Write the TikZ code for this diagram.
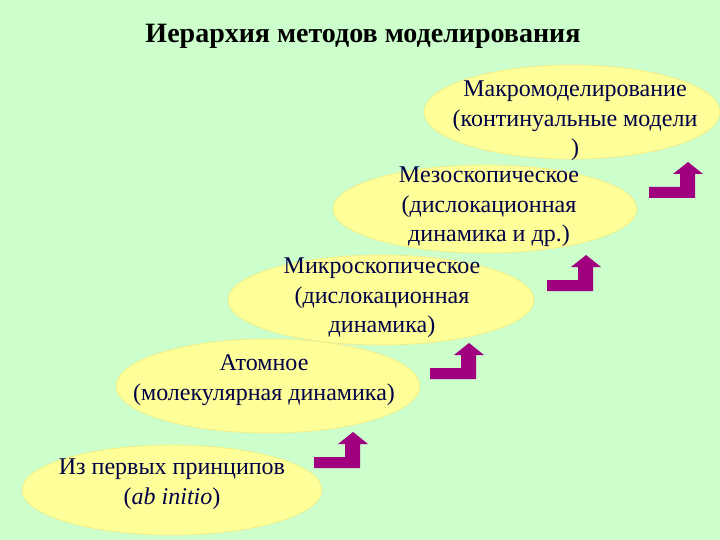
\documentclass[tikz,border=0pt]{standalone}
\usepackage{fontspec}
\setmainfont{Liberation Serif}
\usetikzlibrary{shapes.geometric}
\definecolor{slidegreen}{RGB}{204,255,204}
\definecolor{blobyellow}{RGB}{255,255,153}
\definecolor{blobedge}{RGB}{238,238,140}
\definecolor{inknavy}{RGB}{0,0,70}
\definecolor{steppurple}{RGB}{160,0,128}
\tikzset{
  blob/.style={ellipse, fill=blobyellow, draw=blobedge, line width=0.8pt, inner sep=0pt},
  lbl/.style={align=center, text=inknavy, font=\fontsize{24}{29.5}\selectfont},
  stepup/.style={fill=steppurple},
}
\begin{document}
\begin{tikzpicture}[x=1pt, y=-1pt]
\fill[slidegreen] (0,0) rectangle (720,540);
\useasboundingbox (0,0) rectangle (720,540);
% Title
\node[font=\bfseries\fontsize{28}{32}\selectfont] (title) at (363,36) {Иерархия методов моделирования};
% Levels, bottom to top
\node[blob, minimum width=300pt, minimum height=90pt] (initio) at (172,490) {};
\node[lbl] (initiotxt) at (172,484) {Из первых принципов\\(\textit{ab initio})};
\node[blob, minimum width=304pt, minimum height=94pt] (atom) at (268,386) {};
\node[lbl] (atomtxt) at (264,380) {Атомное\\(молекулярная динамика)};
\node[blob, minimum width=306pt, minimum height=90pt] (micro) at (381,300) {};
\node[lbl] (microtxt) at (382,298) {Микроскопическое\\(дислокационная\\динамика)};
\node[blob, minimum width=304pt, minimum height=88pt] (meso) at (485,209) {};
\node[lbl] (mesotxt) at (489,207) {Мезоскопическое\\(дислокационная\\динамика и др.)};
\node[blob, minimum width=296pt, minimum height=94pt] (macro) at (572,112) {};
\node[lbl] (macrotxt) at (575,121) {Макромоделирование\\(континуальные модели\\)};
% Step arrows
\foreach \x/\y in {314/468, 430/379, 547/291, 649/198} {
    \fill[stepup] (\x,\y) -- ++(46,0) -- ++(0,-24) -- ++(8,0) -- ++(-15,-12)
        -- ++(-15,12) -- ++(7,0) -- ++(0,13) -- ++(-31,0) -- cycle;
}
\end{tikzpicture}
\end{document}
